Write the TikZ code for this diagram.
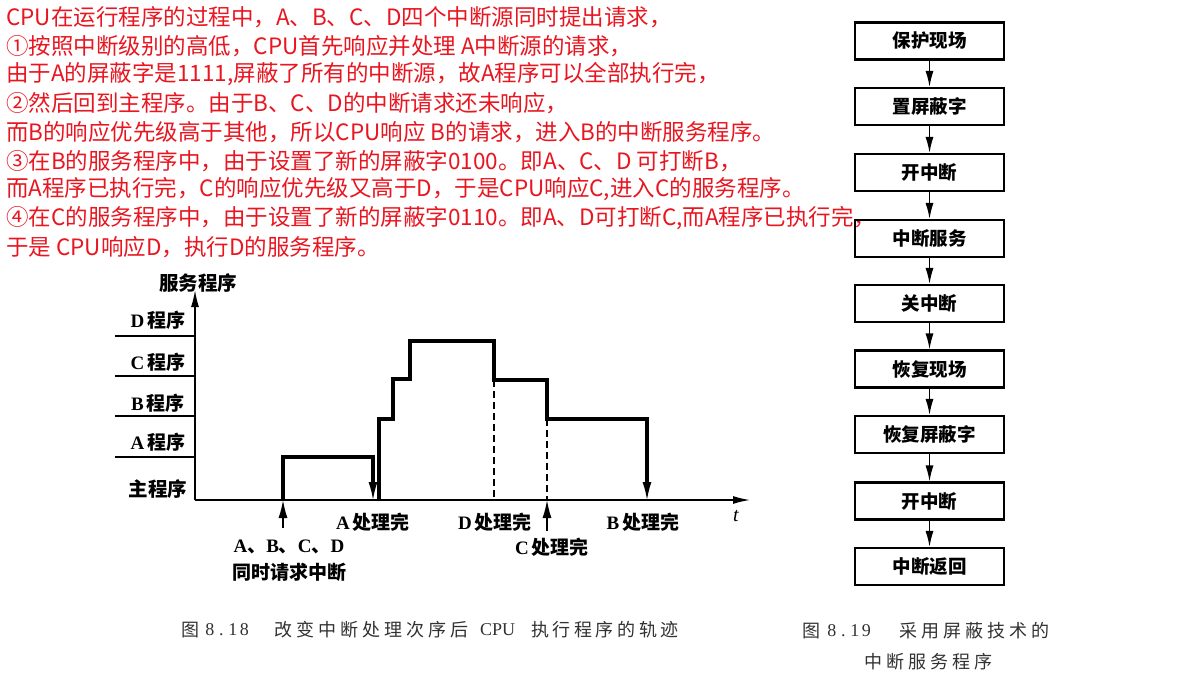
\documentclass[tikz,border=0pt]{standalone}
\usepackage{fontspec}
\setmainfont{Liberation Serif}
\newfontfamily\cjk{Noto Sans CJK SC}
\usetikzlibrary{arrows.meta}
\definecolor{redtxt}{RGB}{232,22,32}
\definecolor{captxt}{RGB}{50,50,50}
% spaced text: \spc{width}{chars}
\makeatletter
\def\spc#1#2{\def\spc@w{#1}\spc@a#2\relax}
\def\spc@a#1{\ifx#1\relax\else\makebox[\spc@w][c]{#1}\expandafter\spc@a\fi}
\makeatother
\begin{document}
\begin{tikzpicture}[x=1pt,y=-1pt,
  redline/.style={anchor=west,inner sep=0pt,text=redtxt,font=\cjk\fontsize{22.5}{25}\selectfont},
  fbox/.style={draw,line width=2.1pt,minimum width=149pt,minimum height=37pt,inner sep=0pt,font=\cjk\bfseries\fontsize{18.5}{20}\selectfont},
  farrow/.style={line width=1.4pt,-{Latex[length=16pt,width=8pt]}},
  axis/.style={line width=1.5pt,-{Latex[length=17pt,width=8pt]}},
  lvl/.style={line width=1.6pt},
  trace/.style={line width=3.4pt},
  tip/.style={-{Latex[length=18pt,width=9pt]}},
  lab/.style={inner sep=0pt,font=\bfseries\fontsize{19}{21}\selectfont},
  capt/.style={inner sep=0pt,anchor=west,text=captxt,font=\fontsize{18}{21}\selectfont}
]
\useasboundingbox (0,0) rectangle (1185,686);
\fill[white] (0,0) rectangle (1185,686);

% red explanatory text
\node[redline] (r1) at (6,17) {CPU在运行程序的过程中，A、B、C、D四个中断源同时提出请求，};
\node[redline] (r2) at (6,45.75) {①按照中断级别的高低，CPU首先响应并处理 A中断源的请求，};
\node[redline] (r3) at (6,74.5) {由于A的屏蔽字是1111,屏蔽了所有的中断源，故A程序可以全部执行完，};
\node[redline] (r4) at (6,103.25) {②然后回到主程序。由于B、C、D的中断请求还未响应，};
\node[redline] (r5) at (6,132) {而B的响应优先级高于其他，所以CPU响应 B的请求，进入B的中断服务程序。};
\node[redline] (r6) at (6,160.75) {③在B的服务程序中，由于设置了新的屏蔽字0100。即A、C、D 可打断B，};
\node[redline] (r7) at (6,189.5) {而A程序已执行完，C的响应优先级又高于D，于是CPU响应C,进入C的服务程序。};
\node[redline] (r8) at (6,218.25) {④在C的服务程序中，由于设置了新的屏蔽字0110。即A、D可打断C,而A程序已执行完，};
\node[redline] (r9) at (6,247) {于是 CPU响应D，执行D的服务程序。};

% flowchart
\node[fbox] (b1) at (929.5,41) {保护现场};
\node[fbox] (b2) at (929.5,106.5) {置屏蔽字};
\node[fbox] (b3) at (929.5,172.5) {开中断};
\node[fbox] (b4) at (929.5,238.5) {中断服务};
\node[fbox] (b5) at (929.5,303.5) {关中断};
\node[fbox] (b6) at (929.5,369) {恢复现场};
\node[fbox] (b7) at (929.5,434.5) {恢复屏蔽字};
\node[fbox] (b8) at (929.5,501) {开中断};
\node[fbox] (b9) at (929.5,566.5) {中断返回};
\foreach \a/\b in {b1/b2,b2/b3,b3/b4,b4/b5,b5/b6,b6/b7,b7/b8,b8/b9}
  \draw[farrow] (\a) -- (\b);

% chart axes
\coordinate (o) at (195,500);
\coordinate (ytop) at (195,290);
\coordinate (xend) at (750,500);
\draw[axis] (o) -- (ytop);
\draw[axis] (o) -- (xend);
\node[lab,font=\cjk\bfseries\fontsize{19.5}{21}\selectfont] (ylab) at (198,283) {服务程序};
\node[inner sep=0pt,font=\itshape\fontsize{20}{21}\selectfont] (tlab) at (736,516) {t};

% level lines
\foreach \y/\n in {336/ld,376/lc,416/lb,457/la}{
  \coordinate (\n1) at (115,\y);
  \coordinate (\n2) at (195,\y);
  \draw[lvl] (\n1) -- (\n2);
}
\node[lab] (tD) at (158,320) {D\,{\cjk 程序}};
\node[lab] (tC) at (158,362) {C\,{\cjk 程序}};
\node[lab] (tB) at (158,403) {B\,{\cjk 程序}};
\node[lab] (tA) at (158,442) {A\,{\cjk 程序}};
\node[lab,font=\cjk\bfseries\fontsize{19.5}{21}\selectfont] (tM) at (158,489) {主程序};

% A trace
\coordinate (a0) at (283,500);
\coordinate (a1) at (283,457);
\coordinate (a2) at (373,457);
\coordinate (a3) at (373,500);
\coordinate (a4) at (373,484);
\draw[trace,line join=miter] (a0) -- (a1) -- (a2) -- (a4);
\draw[line width=1.6pt,tip] (373,481) -- (a3);

% main trace
\coordinate (m0) at (379,500);
\coordinate (m1) at (379,419);
\coordinate (m2) at (393,419);
\coordinate (m3) at (393,379);
\coordinate (m4) at (410,379);
\coordinate (m5) at (410,341);
\coordinate (m6) at (494,341);
\coordinate (m7) at (494,380);
\coordinate (m8) at (547,380);
\coordinate (m9) at (547,419);
\coordinate (m10) at (647,419);
\coordinate (m11) at (647,500);
\coordinate (m12) at (647,484);
\draw[trace,line join=miter] (m0) -- (m1) -- (m2) -- (m3) -- (m4) -- (m5) -- (m6) -- (m7) -- (m8) -- (m9) -- (m10) -- (m12);
\draw[line width=1.6pt,tip] (647,481) -- (m11);

% dashed drops
\coordinate (d1) at (494,500);
\coordinate (d2) at (547,500);
\draw[line width=1.4pt,dash pattern=on 7pt off 4pt] (m7) -- (d1);
\draw[line width=1.4pt,dash pattern=on 7pt off 4pt] (m9) -- (d2);

% request arrows
\coordinate (q1) at (283,528);
\coordinate (q2) at (547,531);
\draw[line width=1.5pt,tip] (q1) -- (a0);
\draw[line width=1.5pt,tip] (q2) -- (d2);

% event labels
\node[lab] (eA) at (373,522) {A\,{\cjk 处理完}};
\node[lab] (eD) at (495,522) {D\,{\cjk 处理完}};
\node[lab] (eC) at (552,547) {C\,{\cjk 处理完}};
\node[lab] (eB) at (643,522) {B\,{\cjk 处理完}};
\node[lab] (eq1) at (289,547) {A{\cjk 、}B{\cjk 、}C{\cjk 、}D};
\node[lab,font=\cjk\bfseries\fontsize{19}{21}\selectfont] (eq2) at (289,572) {同时请求中断};

% captions
\node[capt] (c1a) at (181,630) {\cjk 图};
\node[capt] (c1b) at (204,630) {\spc{11.5pt}{8.18}};
\node[capt] (c1c) at (272,630) {\cjk\spc{22pt}{改变中断处理次序后}};
\node[capt] (c1d) at (480,630) {CPU};
\node[capt] (c1e) at (529,630) {\cjk\spc{21.6pt}{执行程序的轨迹}};
\node[capt] (c2a) at (802,631) {\cjk 图};
\node[capt] (c2b) at (826,631) {\spc{11.5pt}{8.19}};
\node[capt] (c2c) at (897,631) {\cjk\spc{22pt}{采用屏蔽技术的}};
\node[capt] (c3) at (862,662) {\cjk\spc{22pt}{中断服务程序}};
\end{tikzpicture}
\end{document}
